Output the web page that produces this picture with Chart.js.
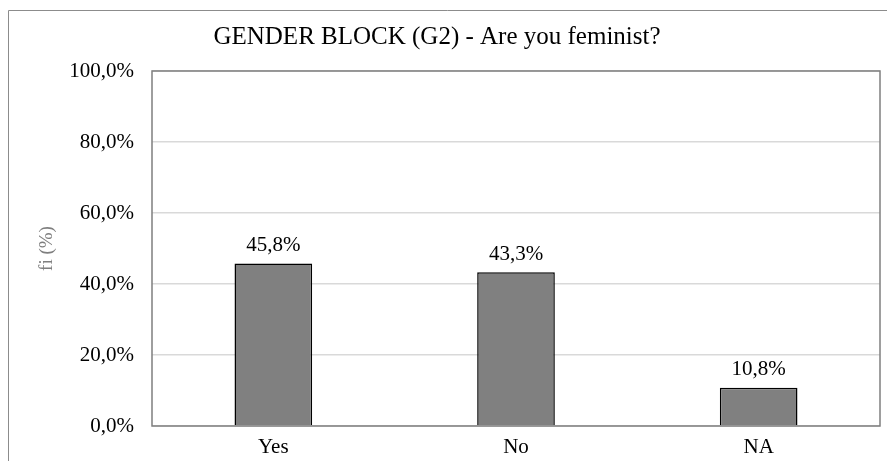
<!DOCTYPE html>
<html>
<head>
<meta charset="utf-8">
<script src="https://cdn.jsdelivr.net/npm/chart.js@4/dist/chart.umd.min.js"></script>
<style>
  html, body { margin: 0; padding: 0; background: #fff; overflow: hidden; }
  #wrap { width: 887px; height: 461px; position: relative; }
</style>
</head>
<body>
<div id="wrap"><canvas id="chart"></canvas></div>
<script>
// Chart data
const categories = ['Yes', 'No', 'NA'];
const values = [45.8, 43.3, 10.8];
const yTicks = [0, 20, 40, 60, 80, 100];
const chartTitle = 'GENDER BLOCK (G2) - Are you feminist?';

const SERIF = '"Liberation Serif", "Times New Roman", serif';
const fmtPct = (v) => v.toFixed(1).replace('.', ',') + '%';

// Outer frame (only top and left visible), title and plot box
const framePlugin = {
    id: 'frame',
    beforeDraw(chart) {
        const ctx = chart.ctx;
        ctx.save();
        ctx.strokeStyle = '#8c8c8c';
        ctx.lineWidth = 1;
        ctx.beginPath();
        ctx.moveTo(8.5, chart.height);
        ctx.lineTo(8.5, 10.5);
        ctx.lineTo(chart.width, 10.5);
        ctx.stroke();
        ctx.font = '25px ' + SERIF;
        ctx.fillStyle = '#000';
        ctx.textAlign = 'center';
        ctx.textBaseline = 'alphabetic';
        ctx.fillText(chartTitle, 437, 44);
        ctx.restore();
    },
    afterDatasetsDraw(chart) {
        const { ctx, chartArea: a } = chart;
        ctx.save();
        ctx.strokeStyle = '#7f7f7f';
        ctx.lineWidth = 1.5;
        ctx.strokeRect(a.left, a.top, a.right - a.left, a.bottom - a.top);
        ctx.restore();
    }
};

// Value labels above bars
const labelPlugin = {
    id: 'barLabels',
    afterDatasetsDraw(chart) {
        const ctx = chart.ctx;
        const meta = chart.getDatasetMeta(0);
        ctx.save();
        ctx.font = '21px ' + SERIF;
        ctx.fillStyle = '#000';
        ctx.textAlign = 'center';
        ctx.textBaseline = 'middle';
        meta.data.forEach((bar, i) => {
            ctx.fillText(fmtPct(values[i]), bar.x, bar.y - 18);
        });
        ctx.restore();
    }
};

new Chart(document.getElementById('chart'), {
    type: 'bar',
    data: {
        labels: categories,
        datasets: [{
            data: values,
            backgroundColor: '#808080',
            borderColor: '#000000',
            borderWidth: 1.5,
            categoryPercentage: 1,
            barPercentage: 0.32
        }]
    },
    options: {
        responsive: true,
        maintainAspectRatio: false,
        animation: false,
        layout: { padding: { left: 10, right: 7, top: 71, bottom: 0 } },
        plugins: {
            legend: { display: false },
            tooltip: { enabled: false },
            title: { display: false }
        },
        scales: {
            x: {
                grid: { display: false, drawTicks: false },
                border: { display: false },
                ticks: {
                    color: '#000',
                    padding: 9,
                    font: { family: SERIF, size: 21 }
                },
                afterFit: (s) => { s.height = 35; }
            },
            y: {
                min: 0,
                max: 100,
                afterBuildTicks: (s) => { s.ticks = yTicks.map(v => ({ value: v })); },
                grid: { color: '#d9d9d9', lineWidth: 1.5, drawTicks: false },
                border: { display: false },
                ticks: {
                    color: '#000',
                    padding: 18,
                    callback: (v) => fmtPct(v),
                    font: { family: SERIF, size: 21 }
                },
                title: {
                    display: true,
                    text: 'fi (%)',
                    color: '#7f7f7f',
                    padding: { top: 26, bottom: 0 },
                    font: { family: SERIF, size: 19 }
                },
                afterFit: (s) => { s.width = 142; }
            }
        }
    },
    plugins: [framePlugin, labelPlugin]
});
</script>
</body>
</html>
